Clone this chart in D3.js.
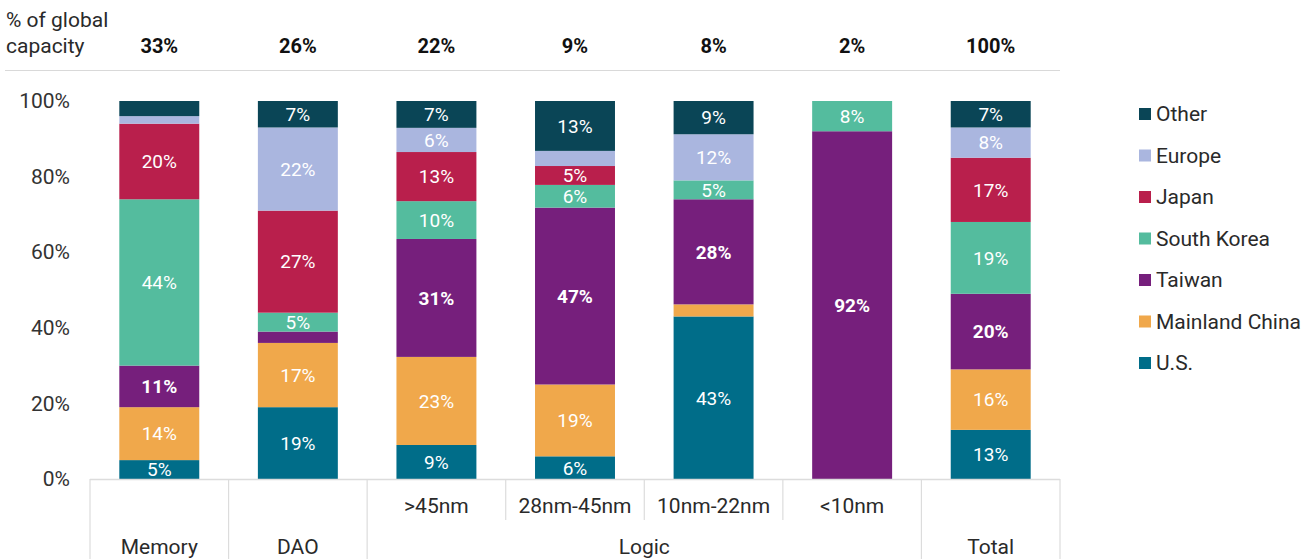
<!DOCTYPE html>
<html><head><meta charset="utf-8">
<script src="https://cdn.jsdelivr.net/npm/d3@7/dist/d3.min.js"></script>
<style>
body{margin:0;background:#fff;}
text{font-family:Roboto,"Liberation Sans",sans-serif;}
</style></head><body>
<svg id="chart" width="1309" height="559"></svg>
<script>
const categories = ["Memory","DAO",">45nm","28nm-45nm","10nm-22nm","<10nm","Total"];
const groupLabels = ["Memory","DAO","Logic","Total"];
const shareOfGlobal = ["33%","26%","22%","9%","8%","2%","100%"];
const seriesNames = ["U.S.","Mainland China","Taiwan","South Korea","Japan","Europe","Other"];
const usVals       = [5, 19, 9, 6, 43, 0, 13];
const chinaVals    = [14, 17, 23.3, 19, 3.2, 0, 16];
const taiwanVals   = [11, 3, 31.2, 46.8, 27.8, 92, 20];
const koreaVals    = [44, 5, 10, 6, 5, 8, 19];
const japanVals    = [20, 27, 13, 5, 0, 0, 17];
const europeVals   = [2, 22, 6.4, 4, 12.2, 0, 8];
const otherVals    = [4, 7, 7.1, 13.2, 8.8, 0, 7];
const yTicks = [0,20,40,60,80,100];
const colors = ["#006d89","#f0a84b","#761f7c","#54bc9e","#b91f4c","#aab6df","#0a4556"];

const seriesVals = [usVals,chinaVals,taiwanVals,koreaVals,japanVals,europeVals,otherVals];
const data = categories.map((c,i)=>{const o={cat:c}; seriesNames.forEach((s,j)=>o[s]=seriesVals[j][i]); return o;});
const svg = d3.select("#chart");
const x = d3.scaleBand().domain(categories).range([90,1060]).padding(0);
const y = d3.scaleLinear().domain([0,100]).range([479,101]);
const barW = x.bandwidth()*0.577;
const stack = d3.stack().keys(seriesNames)(data);
const txt = "#2a2a2a";
const fs = 21;

// header
svg.append("text").attr("x",6).attr("y",27).attr("font-size",fs).attr("fill",txt).text("% of global");
svg.append("text").attr("x",6).attr("y",53).attr("font-size",fs).attr("fill",txt).text("capacity");
svg.selectAll(".hdr").data(categories).join("text").attr("class","hdr")
  .attr("x",d=>x(d)+x.bandwidth()/2).attr("y",53).attr("text-anchor","middle")
  .attr("font-size",20).attr("font-weight",700).attr("fill","#111")
  .text((d,i)=>shareOfGlobal[i]);
svg.append("line").attr("x1",5).attr("x2",1060).attr("y1",70.5).attr("y2",70.5).attr("stroke","#d9d9d9").attr("stroke-width",1.2);

// y axis
const yAxis = d3.axisLeft(y).tickValues(yTicks).tickFormat(d=>d+"%").tickSize(0).tickPadding(0);
const ya = svg.append("g").attr("transform","translate(70,0)").call(yAxis);
ya.select(".domain").remove();
ya.selectAll("text").attr("font-size",fs).attr("fill","#333").attr("font-family","Roboto,sans-serif");

// bars
const layers = svg.selectAll(".layer").data(stack).join("g").attr("fill",(d,i)=>colors[i]);
layers.selectAll("rect").data(d=>d.map(v=>({v,key:d.key}))).join("rect")
  .attr("x",d=>x(d.v.data.cat)+(x.bandwidth()-barW)/2)
  .attr("width",barW)
  .attr("y",d=>y(d.v[1]))
  .attr("height",d=>Math.max(0,y(d.v[0])-y(d.v[1])));
// labels
layers.selectAll("text").data(d=>d.map(v=>({v,key:d.key}))).join("text")
  .filter(d=>(d.v[1]-d.v[0])>=4.9)
  .attr("x",d=>x(d.v.data.cat)+x.bandwidth()/2)
  .attr("y",d=>(y(d.v[0])+y(d.v[1]))/2)
  .attr("dy","0.36em").attr("text-anchor","middle")
  .attr("font-size",19).attr("fill","#fff")
  .attr("font-weight",d=>d.key==="Taiwan"?700:400)
  .text(d=>Math.round(d.v[1]-d.v[0])+"%");

// bottom table
const g = "#dcdcdc";
svg.append("line").attr("x1",90).attr("x2",1060).attr("y1",479.5).attr("y2",479.5).attr("stroke",g).attr("stroke-width",1.5);
const bounds = categories.map(c=>x(c)).concat([x.range()[1]]);
bounds.forEach((b,i)=>{
  const full = (i===0||i===1||i===2||i===6||i===7);
  svg.append("line").attr("x1",b).attr("x2",b).attr("y1",479).attr("y2",full?559:520).attr("stroke",g).attr("stroke-width",1.2);
});
[">45nm","28nm-45nm","10nm-22nm","<10nm"].forEach(c=>{
  svg.append("text").attr("x",x(c)+x.bandwidth()/2).attr("y",513).attr("text-anchor","middle").attr("font-size",fs).attr("fill",txt).text(c);
});
const groupPos = [x("Memory")+x.bandwidth()/2, x("DAO")+x.bandwidth()/2, (x(">45nm")+x("<10nm")+x.bandwidth())/2, x("Total")+x.bandwidth()/2];
groupLabels.forEach((l,i)=>{
  svg.append("text").attr("x",groupPos[i]).attr("y",554).attr("text-anchor","middle").attr("font-size",fs).attr("fill",txt).text(l);
});

// legend
const legendOrder = seriesNames.slice().reverse();
const lg = svg.selectAll(".lg").data(legendOrder).join("g").attr("class","lg")
  .attr("transform",(d,i)=>`translate(1139,${114+i*41.5})`);
lg.append("rect").attr("x",0).attr("y",-6).attr("width",12).attr("height",12).attr("fill",d=>colors[seriesNames.indexOf(d)]);
lg.append("text").attr("x",17).attr("y",0).attr("dy","0.35em").attr("font-size",fs).attr("fill",txt).text(d=>d);
</script></body></html>
